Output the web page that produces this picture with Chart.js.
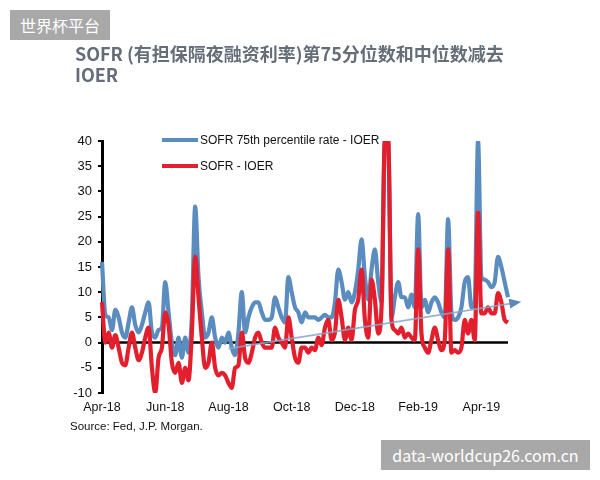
<!doctype html>
<html lang="zh">
  <head>
    <meta charset="UTF-8" />
    <title>SOFR - IOER</title>
    <script src="https://cdn.jsdelivr.net/npm/chart.js"></script>
    <style>
      body {
        margin: 0;
        width: 600px;
        height: 480px;
        position: relative;
        overflow: hidden;
        background: #fff;
        font-family: "Liberation Sans", Arial, sans-serif;
      }
      #chart {
        position: absolute;
        left: 0;
        top: 0;
      }
      .title {
        position: absolute;
        left: 75px;
        top: 43px;
        font-family: "Noto Sans CJK SC", sans-serif;
        font-weight: 700;
        font-size: 18px;
        line-height: 21px;
        color: #646d78;
      }
      .legend {
        position: absolute;
        left: 162px;
        font-size: 12px;
        color: #111;
        display: flex;
        align-items: center;
        height: 16px;
      }
      .legend span.swatch {
        display: inline-block;
        width: 36px;
        height: 4px;
        margin-right: 2px;
      }
      .source {
        position: absolute;
        left: 70px;
        top: 420px;
        font-size: 11.5px;
        color: #111;
      }
      .mark {
        position: absolute;
        background: #a8a8a8;
        color: #fff;
        font-family: "Noto Sans CJK SC", sans-serif;
        font-size: 16px;
        text-align: center;
      }
    </style>
  </head>
  <body>
    <canvas id="chart" width="600" height="480"></canvas>
    <div class="title">SOFR (有担保隔夜融资利率)第75分位数和中位数减去<br />IOER</div>
    <div class="legend" style="top: 132px">
      <span class="swatch" style="background: #5a8cbf"></span>SOFR 75th percentile rate - IOER
    </div>
    <div class="legend" style="top: 158px">
      <span class="swatch" style="background: #e31e2d"></span>SOFR - IOER
    </div>
    <div class="source">Source: Fed, J.P. Morgan.</div>
    <div class="mark" style="left: 10px; top: 10px; width: 100px; height: 30px; line-height: 30px">世界杯平台</div>
    <div class="mark" style="left: 381px; top: 440px; width: 209px; height: 30px; line-height: 30px">data-worldcup26.com.cn</div>

    <script>
      // SOFR 75th percentile - IOER (bp), Apr-18 .. May-19
      const p75Values = [
        16, 5.5, 5, 2.5, 6.5, 5, 2, 1, 4, 7,
        3.5, 2, 3.5, 6, 8, 2, 1, 2.5, 3, 12,
        6, 0, -2.5, 1, -3, 1, -2, 5, 27, 13,
        6, 1, 2, 5, 1, -1, 1, 0, 2, -1,
        -2.5, 2, 10, 2, 5, 7, 8, 8, 6, 4.5,
        4.5, 5, 9, 7, 5, 4, 13, 10, 7, 6,
        4, 6, 5, 5, 5, 4.5, 5, 5.5, 5, 5,
        8, 14.5, 12, 8.5, 10, 8, 10, 14.5, 20.5, 13,
        8.5, 14.5, 18.5, 12, 8, 40, 40, 5, 9, 12,
        9, 9, 7, 9.5, 7, 25.5, 7, 8.5, 6, 8,
        9, 8, 6, 5, 24.5, 6, 4.5, 5, 7, 12,
        13, 7, 8, 40, 13, 12.5, 12, 11, 12, 17,
        15, 12, 9,
      ];

      // SOFR median - IOER (bp)
      const medianValues = [
        8, 0, 2, -1, 1.5, -1, -4, -4.5, -1, 2,
        -1, -3.5, -2, 1, 3, -5, -10, -3, -1, 6,
        3.5, -4, -6, -4, -8, -5, -7.5, 2, 17, 9,
        1, -5, -4, 0, -5, -6.5, -6, -6.5, -8, -9,
        -5, -4.5, 2, -3, -4, -2, 1, 2, 0, -1,
        -1, -1, 3, 1, 0, -1, 5, 1, -3, -4,
        -1, -1, -2, -1, -1.5, 1, -0.5, 3, 4.5, 0.5,
        2, 8.5, 5, 0.5, 3, 0.5, 6.5, 8.5, 14.5, 4.5,
        1, 12.5, 8.5, 1.8, 7, 40, 40, 4.5, 2.5, 1.8,
        3, 1, 1.8, 1, 0.5, 18.5, 1.8, -1, -2, 0.5,
        3, 0.5, -1.5, 0.5, 18.5, -2, -1.5, -2, -1, 4.5,
        1.8, 4.5, 0.5, 25.8, 5.8, 5.8, 7, 5.8, 5.8, 9.8,
        8, 4.5, 4,
      ];

      const monthLabels = ['Apr-18', 'Jun-18', 'Aug-18', 'Oct-18', 'Dec-18', 'Feb-19', 'Apr-19'];
      const monthIdx = [0, 19, 38, 57, 76, 95, 114];

      // trend arrow: [index, value]
      const trendFrom = [38, -1.2];
      const trendTo = [126, 8.1];

      const xLabels = p75Values.map((_, i) => {
        const k = monthIdx.indexOf(i);
        return k >= 0 ? monthLabels[k] : '';
      });

      const zeroLine = {
        id: 'zeroLine',
        beforeDatasetsDraw(chart) {
          const { ctx, chartArea, scales } = chart;
          const y = scales.y.getPixelForValue(0);
          ctx.save();
          ctx.strokeStyle = '#000';
          ctx.lineWidth = 2.5;
          ctx.beginPath();
          ctx.moveTo(chartArea.left, y);
          ctx.lineTo(chartArea.right, y);
          ctx.stroke();
          ctx.restore();
        },
      };

      const trendArrow = {
        id: 'trendArrow',
        afterDatasetsDraw(chart) {
          const { ctx, scales } = chart;
          const x1 = scales.x.getPixelForValue(trendFrom[0]);
          const y1 = scales.y.getPixelForValue(trendFrom[1]);
          const x2 = scales.x.getPixelForValue(trendTo[0]);
          const y2 = scales.y.getPixelForValue(trendTo[1]);
          const a = Math.atan2(y2 - y1, x2 - x1);
          ctx.save();
          ctx.strokeStyle = 'rgba(138,165,198,0.85)';
          ctx.lineWidth = 1.8;
          ctx.beginPath();
          ctx.moveTo(x1, y1);
          ctx.lineTo(x2 - 8 * Math.cos(a), y2 - 8 * Math.sin(a));
          ctx.stroke();
          ctx.fillStyle = '#5b87ba';
          ctx.beginPath();
          ctx.moveTo(x2, y2);
          ctx.lineTo(x2 - 12 * Math.cos(a) + 5 * Math.sin(a), y2 - 12 * Math.sin(a) - 5 * Math.cos(a));
          ctx.lineTo(x2 - 12 * Math.cos(a) - 5 * Math.sin(a), y2 - 12 * Math.sin(a) + 5 * Math.cos(a));
          ctx.closePath();
          ctx.fill();
          ctx.restore();
        },
      };

      const tickFont = { family: '"Liberation Sans", Arial, sans-serif', size: 13 };

      new Chart(document.getElementById('chart'), {
        type: 'line',
        data: {
          labels: xLabels,
          datasets: [
            {
              label: 'SOFR - IOER',
              data: medianValues,
              borderColor: '#e31e2d',
              borderWidth: 4.2,
              pointRadius: 0,
              cubicInterpolationMode: 'monotone',
            },
            {
              label: 'SOFR 75th percentile rate - IOER',
              data: p75Values,
              borderColor: '#5a8cbf',
              borderWidth: 4.2,
              pointRadius: 0,
              cubicInterpolationMode: 'monotone',
            },
          ],
        },
        options: {
          responsive: false,
          devicePixelRatio: 1,
          animation: false,
          layout: { padding: { top: 141, right: 92, left: 0, bottom: 0 } },
          plugins: { legend: { display: false }, tooltip: { enabled: false } },
          scales: {
            x: {
              type: 'category',
              grid: { display: false, drawTicks: false },
              border: { display: false },
              ticks: {
                autoSkip: false,
                maxRotation: 0,
                padding: 7,
                color: '#111',
                font: { family: tickFont.family, size: 12.5 },
                callback: (v, i) => xLabels[i],
              },
              afterFit: (s) => { s.height = 87; },
            },
            y: {
              min: -10,
              max: 40,
              ticks: { stepSize: 5, padding: 6, color: '#111', font: tickFont },
              grid: { drawOnChartArea: false, drawTicks: true, tickLength: 4, color: '#000', lineWidth: 2 },
              border: { color: '#000', width: 3 },
              afterFit: (s) => { s.width = 102; },
            },
          },
        },
        plugins: [zeroLine, trendArrow],
      });
    </script>
  </body>
</html>
